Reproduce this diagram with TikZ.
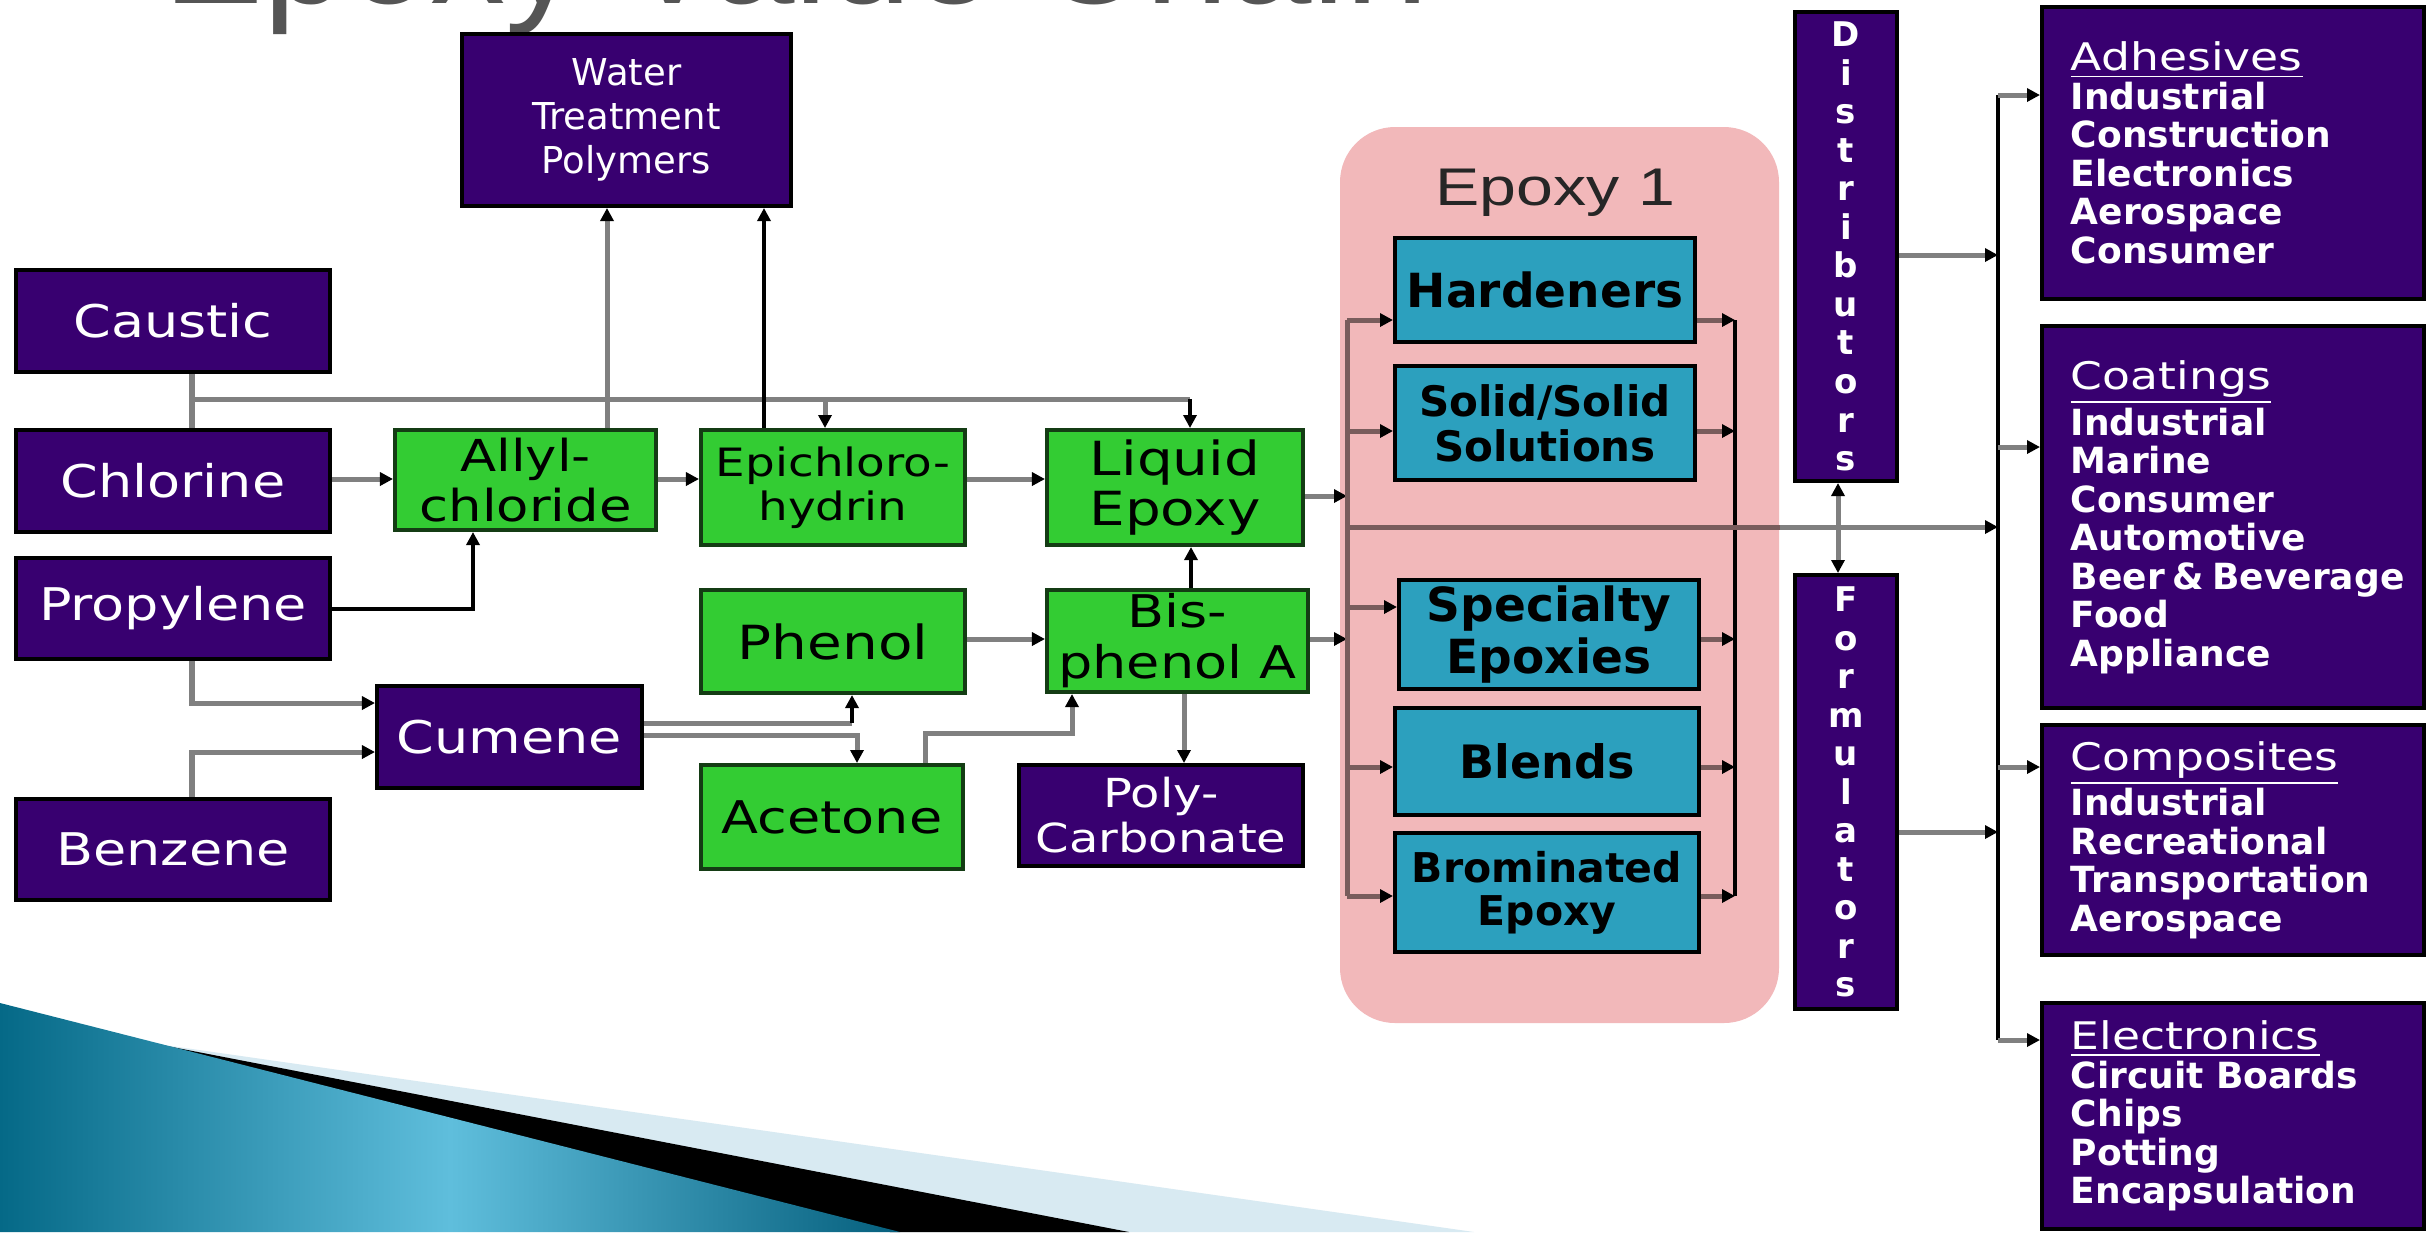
\documentclass[tikz,border=0pt]{standalone}
\usepackage{fontspec}
\setmainfont{DejaVu Sans}
\newfontfamily\fWide[FakeStretch=1.2]{DejaVu Sans}
\newfontfamily\fNorm{DejaVu Sans}
\newfontfamily\fBold{DejaVu Sans}
\newfontfamily\fEp[FakeStretch=1.25]{Liberation Sans}
\newfontfamily\fTitle{Liberation Sans}
\usetikzlibrary{arrows.meta}
\definecolor{purp}{RGB}{56,0,112}
\definecolor{grn}{RGB}{51,204,51}
\definecolor{gedge}{RGB}{20,60,20}
\definecolor{cyn}{RGB}{44,160,190}
\definecolor{pnk}{RGB}{242,184,186}
\definecolor{lg}{RGB}{128,128,128}
\definecolor{lp}{RGB}{121,92,92}
\definecolor{ttl}{RGB}{85,85,85}
\definecolor{tealdark}{RGB}{5,105,135}
\definecolor{tealdarkB}{RGB}{5,95,125}
\definecolor{teallight}{RGB}{95,190,220}
\definecolor{skyl}{RGB}{216,234,242}
\newcommand\rhead[1]{{\fWide\mdseries\fontsize{0.38cm}{0.385cm}\selectfont\underline{#1}}}
\begin{document}
\begin{tikzpicture}[x=0.01cm,y=-0.01cm,
  >={Triangle[length=0.13cm,width=0.13cm,color=black]},
  bx/.style n args={4}{minimum width={(#3-#1)*0.01cm},minimum height={(#4-#2)*0.01cm},at={({(#1+#3)/2},{(#2+#4)/2})}},
  nPurple/.style={rectangle,inner sep=0pt,line width=0.04cm,align=center,fill=purp,draw=black,text=white,font=\fWide\fontsize{0.45cm}{0.5cm}\selectfont},
  nGreen/.style={rectangle,inner sep=0pt,line width=0.04cm,align=center,fill=grn,draw=gedge,text=black,font=\fWide\fontsize{0.45cm}{0.5cm}\selectfont},
  nCyan/.style={rectangle,inner sep=0pt,line width=0.04cm,align=center,fill=cyn,draw=black,text=black,font=\fBold\bfseries\fontsize{0.46cm}{0.5cm}\selectfont},
  nRight/.style={rectangle,inner sep=0pt,line width=0.04cm,fill=purp,draw=black,text=white,text width=3.24cm,align=left,font=\fBold\bfseries\fontsize{0.36cm}{0.385cm}\selectfont},
  nVert/.style={rectangle,inner sep=0pt,line width=0.04cm,align=center,fill=purp,draw=black,text=white,font=\fBold\bfseries\fontsize{0.34cm}{0.385cm}\selectfont},
  lnGray/.style={draw=lg,line width=0.05cm},
  lnPink/.style={draw=lp,line width=0.05cm},
  lnBlack/.style={draw=black,line width=0.035cm}]
\useasboundingbox (0,0) rectangle (2432,1232);
\clip (0,0) rectangle (2432,1232);
\fill[white] (0,0) rectangle (2432,1232);

% title (cut off at top, as in the slide)
\node[anchor=base west,inner sep=0pt,text=ttl,font=\fTitle\fontsize{1.5cm}{1.6cm}\selectfont] (title) at (163,3) {Epoxy Value Chain};

% bottom-left swoosh
\fill[skyl] (150,1043) -- (1474,1232) -- (890,1232) -- cycle;
\fill[black] (110,1035) -- (1129,1232) -- (890,1232) -- cycle;
\shade[left color=tealdark,right color=tealdarkB,middle color=teallight] (0,1003) -- (900,1232) -- (0,1232) -- cycle;

% pink group
\node[fill=pnk,rounded corners=0.55cm,inner sep=0pt,bx={1340}{127}{1779}{1023}] (epoxybox) {};
\node[anchor=base west,inner sep=0pt,text=black!85,font=\fEp\fontsize{0.53cm}{0.6cm}\selectfont] (ep1) at (1435,205) {Epoxy 1};

% raw materials
\node[nPurple,bx={16}{270}{330}{372}] (caustic) {Caustic};
\node[nPurple,bx={16}{430}{330}{532}] (chlorine) {Chlorine};
\node[nPurple,bx={16}{558}{330}{659}] (propylene) {Propylene};
\node[nPurple,bx={16}{799}{330}{900}] (benzene) {Benzene};
\node[nPurple,bx={377}{686}{642}{788}] (cumene) {Cumene};
\node[nPurple,font=\fNorm\fontsize{0.37cm}{0.44cm}\selectfont,bx={462}{34}{791}{206}] (water) {Water\\Treatment\\Polymers};
\node[nPurple,font=\fWide\fontsize{0.40cm}{0.45cm}\selectfont,bx={1019}{765}{1303}{866}] (poly) {Poly-\\Carbonate};

% intermediates
\node[nGreen,font=\fWide\fontsize{0.44cm}{0.50cm}\selectfont,bx={395}{430}{656}{530}] (allyl) {Allyl-\\chloride};
\node[nGreen,font=\fWide\fontsize{0.39cm}{0.44cm}\selectfont,bx={701}{430}{965}{545}] (epi) {Epichloro-\\hydrin};
\node[nGreen,font=\fWide\fontsize{0.47cm}{0.50cm}\selectfont,bx={1047}{430}{1303}{545}] (liquid) {Liquid\\Epoxy};
\node[nGreen,font=\fWide\fontsize{0.47cm}{0.50cm}\selectfont,bx={701}{590}{965}{693}] (phenol) {Phenol};
\node[nGreen,font=\fWide\fontsize{0.45cm}{0.51cm}\selectfont,bx={1047}{590}{1308}{692}] (bis) {Bis-\\phenol A};
\node[nGreen,bx={701}{765}{963}{869}] (acetone) {Acetone};

% epoxy products
\node[nCyan,font=\fBold\bfseries\fontsize{0.47cm}{0.5cm}\selectfont,bx={1395}{238}{1695}{342}] (hard) {Hardeners};
\node[nCyan,font=\fBold\bfseries\fontsize{0.42cm}{0.45cm}\selectfont,bx={1395}{366}{1695}{480}] (solid) {Solid/Solid\\Solutions};
\node[nCyan,font=\fBold\bfseries\fontsize{0.47cm}{0.51cm}\selectfont,bx={1399}{580}{1699}{689}] (spec) {Specialty\\Epoxies};
\node[nCyan,bx={1395}{708}{1699}{815}] (blends) {Blends};
\node[nCyan,font=\fBold\bfseries\fontsize{0.41cm}{0.43cm}\selectfont,bx={1395}{833}{1699}{952}] (brom) {Brominated\\Epoxy};

% channels
\node[nVert,bx={1795}{12}{1897}{481}] (dist) {D\\i\\s\\t\\r\\i\\b\\u\\t\\o\\r\\s};
\node[nVert,bx={1795}{575}{1897}{1009}] (form) {F\\o\\r\\m\\u\\l\\a\\t\\o\\r\\s};

% markets
\node[nRight,bx={2042}{7}{2424}{299}] (adh) {\rhead{Adhesives}\\Industrial\\Construction\\Electronics\\Aerospace\\Consumer};
\node[nRight,bx={2042}{326}{2424}{708}] (coat) {\rhead{Coatings}\\Industrial\\Marine\\Consumer\\Automotive\\\mbox{Beer\hspace{0.08cm}\&\hspace{0.08cm}Beverage}\\Food\\Appliance};
\node[nRight,bx={2042}{725}{2424}{955}] (comp) {\rhead{Composites}\\Industrial\\Recreational\\Transportation\\Aerospace};
\node[nRight,bx={2042}{1003}{2424}{1229}] (elec) {\rhead{Electronics}\\\mbox{Circuit Boards}\\Chips\\Potting\\Encapsulation};

% ---- connectors, left part
\coordinate (jx) at (192,399);
\coordinate (cbE) at (825,399);
\coordinate (cbL) at (1190,399);
\draw[lnGray] (caustic.south -| jx) -- (chlorine.north -| jx);
\draw[lnGray] (jx) -- (cbL);
\draw[lnGray,->] (cbE) -- (epi.north -| cbE);
\draw[lnBlack,->] (cbL) -- (liquid.north -| cbL);
\draw[lnGray,->] (allyl.north -| 607,0) -- (water.south -| 607,0);
\draw[lnBlack,->] (epi.north -| 764,0) -- (water.south -| 764,0);
\draw[lnGray,->] (chlorine.east |- 0,479) -- (allyl.west |- 0,479);
\draw[lnGray,->] (allyl.east |- 0,479) -- (epi.west |- 0,479);
\draw[lnGray,->] (epi.east |- 0,479) -- (liquid.west |- 0,479);
\draw[lnBlack,->] (propylene.east |- 0,609) -| (allyl.south -| 473,0);
\draw[lnGray,->] (phenol.east |- 0,639) -- (bis.west |- 0,639);
\draw[lnBlack,->] (bis.north -| 1191,0) -- (liquid.south -| 1191,0);
\draw[lnGray,->] (bis.south -| 1184,0) -- (poly.north -| 1184,0);
\draw[lnGray,->] (propylene.south -| 192,0) |- (cumene.west |- 0,703);
\draw[lnGray,->] (benzene.north -| 192,0) |- (cumene.west |- 0,752);
\coordinate (cph) at (852,723);
\draw[lnGray] (cumene.east |- cph) -- (cph);
\draw[lnBlack,->] (cph) -- (phenol.south -| cph);
\draw[lnGray,->] (cumene.east |- 0,735) -| (acetone.north -| 857,0);
\draw[lnGray,->] (acetone.north -| 925,0) |- (1072,733) -- (bis.south -| 1072,0);

% ---- connectors, epoxy group
\coordinate (bT) at (1347,320);
\coordinate (bB) at (1347,896);
\coordinate (cT) at (1735,320);
\coordinate (cB) at (1735,896);
\coordinate (rT) at (1998,95);
\coordinate (rB) at (1998,1040);
\draw[lnGray,->] (liquid.east |- 0,496) -- (bT |- 0,496);
\draw[lnGray,->] (bis.east |- 0,639) -- (bT |- 0,639);
\draw[lnPink] (bT) -- (bB);
\draw[lnPink,->] (bT) -- (hard.west |- bT);
\draw[lnPink,->] (bT |- 0,431) -- (solid.west |- 0,431);
\draw[lnPink,->] (bT |- 0,607) -- (spec.west |- 0,607);
\draw[lnPink,->] (bT |- 0,767) -- (blends.west |- 0,767);
\draw[lnPink,->] (bB) -- (brom.west |- bB);
\draw[lnPink,->] (hard.east |- cT) -- (cT);
\draw[lnPink,->] (solid.east |- 0,431) -- (cT |- 0,431);
\draw[lnPink,->] (spec.east |- 0,639) -- (cT |- 0,639);
\draw[lnPink,->] (blends.east |- 0,767) -- (cT |- 0,767);
\draw[lnPink,->] (brom.east |- cB) -- (cB);
\draw[lnBlack] (cT) -- (cB);
\draw[lnGray,->] (bT |- 0,527) -- (rT |- 0,527);
\draw[lnPink] (bT |- 0,527) -- (epoxybox.east |- 0,527);

% ---- connectors, channels and markets
\draw[lnGray,<->] (dist.south -| 1838,0) -- (form.north -| 1838,0);
\draw[lnGray,->] (dist.east |- 0,255) -- (rT |- 0,255);
\draw[lnGray,->] (form.east |- 0,832) -- (rT |- 0,832);
\draw[lnBlack] (rT) -- (rB);
\draw[lnGray,->] (rT) -- (adh.west |- rT);
\draw[lnGray,->] (rT |- 0,447) -- (coat.west |- 0,447);
\draw[lnGray,->] (rT |- 0,767) -- (comp.west |- 0,767);
\draw[lnGray,->] (rB) -- (elec.west |- rB);
\end{tikzpicture}
\end{document}
